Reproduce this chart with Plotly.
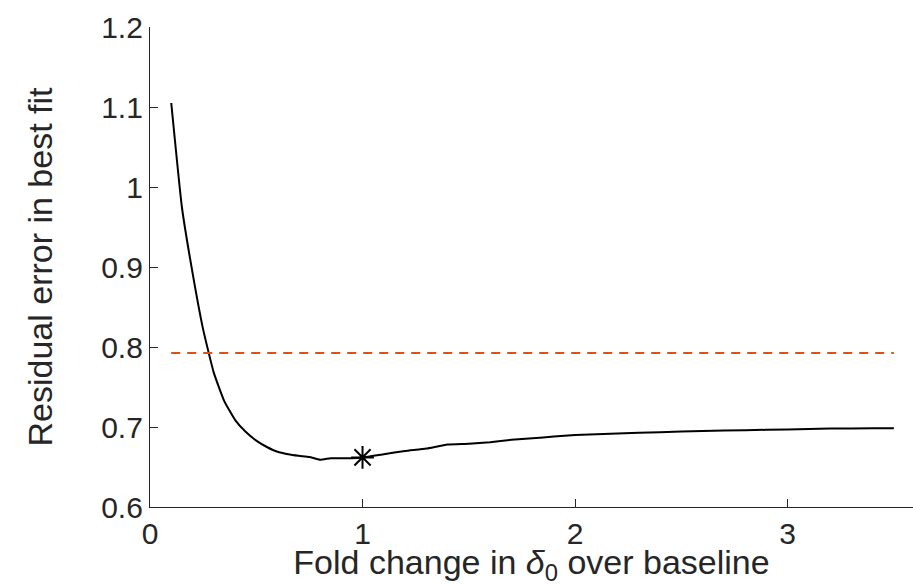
import plotly.graph_objects as go

fold_change = [0.10, 0.15, 0.20, 0.25, 0.30, 0.35, 0.40, 0.45, 0.50, 0.55, 0.60, 0.65,
               0.70, 0.75, 0.80, 0.85, 0.90, 0.95, 1.00, 1.10, 1.20, 1.30, 1.40, 1.50,
               1.60, 1.70, 1.80, 1.90, 2.00, 2.20, 2.40, 2.60, 2.80, 3.00, 3.20, 3.40, 3.50]
residual = [1.105, 0.975, 0.893, 0.822, 0.768, 0.732, 0.709, 0.694, 0.683, 0.675, 0.669, 0.666,
            0.664, 0.6625, 0.659, 0.661, 0.661, 0.661, 0.662, 0.666, 0.670, 0.673, 0.678, 0.679,
            0.681, 0.684, 0.686, 0.688, 0.690, 0.692, 0.6935, 0.695, 0.696, 0.697, 0.698, 0.6985, 0.6985]
best_x = [1.0]
best_y = [0.662]
threshold_x = [0.10, 3.50]
threshold_y = [0.7925, 0.7925]

axis_color = "#262626"
font_family = "Liberation Sans, Arial, Helvetica, sans-serif"

fig = go.Figure()
fig.add_trace(go.Scatter(x=fold_change, y=residual, mode="lines",
                         line=dict(color="black", width=2, shape="spline", smoothing=0.4),
                         showlegend=False))
fig.add_trace(go.Scatter(x=threshold_x, y=threshold_y, mode="lines",
                         line=dict(color="#D95319", width=2, dash="9px,7px"), showlegend=False))
fig.add_trace(go.Scatter(x=best_x, y=best_y, mode="markers",
                         marker=dict(symbol="asterisk-open", size=19, color="black",
                                     line=dict(color="black", width=2)),
                         showlegend=False))

fig.update_layout(
    width=913, height=586,
    margin=dict(l=150, r=0, t=27, b=79),
    plot_bgcolor="white", paper_bgcolor="white",
    font=dict(family=font_family, color=axis_color, size=30),
    xaxis=dict(range=[0, 3.59], tickvals=[0, 1, 2, 3], ticktext=["0", "1", "2", "3"],
               showline=True, linecolor=axis_color, linewidth=1.2,
               ticks="inside", ticklen=8, tickcolor=axis_color, tickwidth=1,
               showgrid=False, zeroline=False,
               tickfont=dict(size=30),
               title=dict(text="Fold change in <i>δ</i><sub>0</sub> over baseline",
                          font=dict(size=34), standoff=0)),
    yaxis=dict(range=[0.6, 1.2], tickvals=[0.6, 0.7, 0.8, 0.9, 1.0, 1.1, 1.2],
               ticktext=["0.6", "0.7", "0.8", "0.9", "1", "1.1", "1.2"],
               showline=True, linecolor=axis_color, linewidth=1.2,
               ticks="inside", ticklen=8, tickcolor=axis_color, tickwidth=1,
               showgrid=False, zeroline=False,
               tickfont=dict(size=30),
               title=dict(text="Residual error in best fit", font=dict(size=34), standoff=38)),
)

fig.write_html("out.html")
